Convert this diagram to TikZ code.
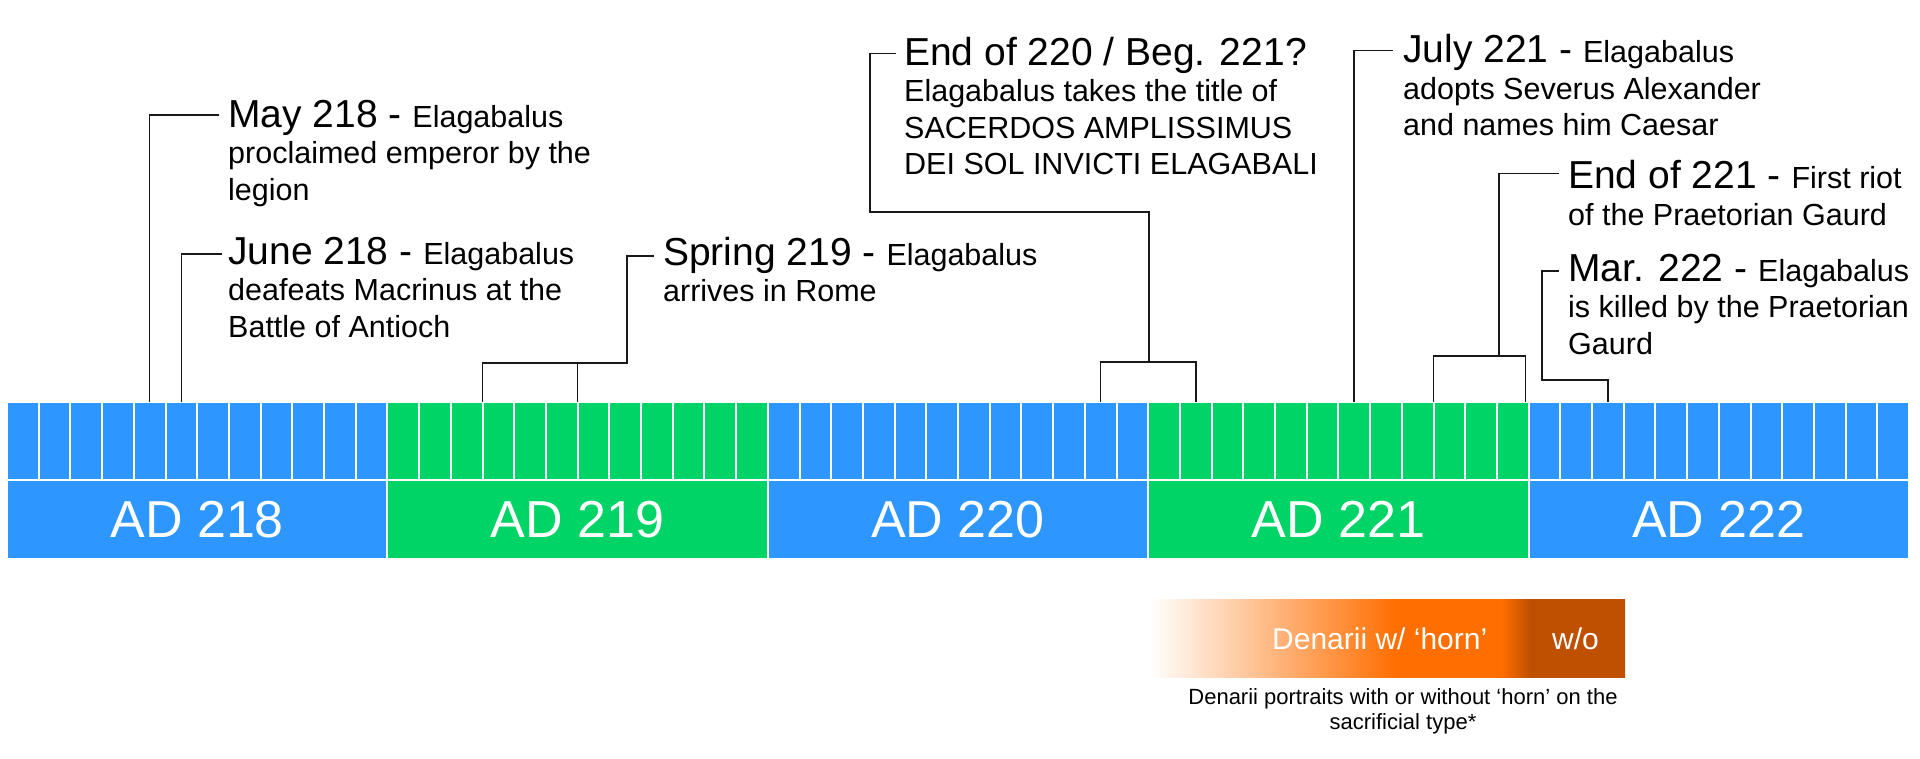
\documentclass[tikz,border=0pt]{standalone}
\usepackage{fontspec}
\setmainfont{Liberation Sans}
\usepackage{tikz}
\usetikzlibrary{positioning}
\definecolor{yearblue}{RGB}{45,150,255}
\definecolor{yeargreen}{RGB}{0,212,102}
\definecolor{hornorange}{RGB}{255,110,0}
\definecolor{hornbrown}{RGB}{190,80,0}
\definecolor{leadgray}{RGB}{25,25,25}
\pgfdeclarehorizontalshading{hornshade}{100bp}{color(0bp)=(white); color(25bp)=(white); color(51bp)=(hornorange); color(62bp)=(hornorange); color(65bp)=(hornbrown); color(100bp)=(hornbrown)}
\newcommand{\evhead}{\fontsize{39}{36.5}\selectfont}
\tikzset{leader/.style={draw=leadgray, line width=1.6pt}}

\begin{document}
\begin{tikzpicture}[x=1pt, y=-1pt, month_cell/.style={rectangle, draw=white, line width=2pt, outer sep=0pt, minimum width=31.7pt, minimum height=78pt, anchor=north west},
year_block/.style={rectangle, draw=white, line width=2pt, outer sep=0pt, minimum width=380.4pt, minimum height=79pt, anchor=north west, text=white, font=\fontsize{52}{60}\selectfont},
event_label/.style={anchor=north west, inner sep=0pt, align=left, font=\fontsize{30.5}{36.5}\selectfont},
horn_text/.style={anchor=base west, inner sep=0pt, text=white, font=\fontsize{30}{36}\selectfont}]
    \useasboundingbox (0,0) rectangle (1920,758);

    % months and years
    \foreach \m in {0,...,59} {
        \pgfmathtruncatemacro\yr{\m/12}
        \ifodd\yr \def\cellcol{yeargreen}\else\def\cellcol{yearblue}\fi
        \node[month_cell, fill=\cellcol] (m\m) at ({7+31.7*\m},402) {};
    }
    \foreach \yr [count=\i from 0] in {218,...,222} {
        \ifodd\i \def\cellcol{yeargreen}\else\def\cellcol{yearblue}\fi
        \node[year_block, fill=\cellcol] (y\yr) at ({7+380.4*\i},480) {AD \yr};
    }

    % events
    \node[event_label] (may218) at (228,99.7) {{\evhead May 218 - }Elagabalus\\proclaimed emperor by the\\legion};
    \node[event_label] (june218) at (228,237) {{\evhead June 218 - }Elagabalus\\deafeats Macrinus at the\\Battle of Antioch};
    \node[event_label] (spring219) at (663,237) {{\evhead Spring 219 - }Elagabalus\\arrives in Rome};
    \node[event_label] (end220) at (904,36.6) {{\evhead End of 220 / Beg. 221?}\\Elagabalus takes the title of\\SACERDOS AMPLISSIMUS\\DEI SOL INVICTI ELAGABALI};
    \node[event_label] (july221) at (1403,34.3) {{\evhead July 221 - }Elagabalus\\adopts Severus Alexander\\and names him Caesar};
    \node[event_label] (end221) at (1568,160.3) {{\evhead End of 221 - }First riot\\of the Praetorian Gaurd};
    \node[event_label] (mar222) at (1568,253.7) {{\evhead Mar. 222 - }Elagabalus\\is killed by the Praetorian\\Gaurd};

    \coordinate (springbar) at (627,363);
    \coordinate (end220bar) at (1149,362);
    \coordinate (end220bend) at (870,212);
    \coordinate (end221bar) at (1499,356);
    \coordinate (mar222bend) at (1542,380);

    \draw[leader] (m4.north) |- ([xshift=-9pt,yshift=-15pt]may218.north west);
    \draw[leader] (m5.north) |- ([xshift=-6pt,yshift=-17pt]june218.north west);
    \draw[leader] (m15.north west) |- (springbar) |- ([xshift=-9pt,yshift=-19pt]spring219.north west);
    \draw[leader] (m18.north west) -- (m18.north west |- springbar);
    \draw[leader] (m34.north) |- (end220bar) -| (m37.north);
    \draw[leader] (end220bar) |- (end220bend) |- ([xshift=-8pt,yshift=-17pt]end220.north west);
    \draw[leader] (m42.north) |- ([xshift=-10pt,yshift=-16pt]july221.north west);
    \draw[leader] (m45.north west) |- (end221bar) -| ([xshift=-3pt]m47.north east);
    \draw[leader] (end221bar) |- ([xshift=-9pt,yshift=-13pt]end221.north west);
    \draw[leader] (m50.north) |- (mar222bend) |- ([xshift=-9pt,yshift=-17pt]mar222.north west);

    % denarii bar
    \node[rectangle, shading=hornshade, outer sep=0pt, minimum width=475pt, minimum height=78pt, anchor=north west] (hornbar) at (1150,599) {};
    \node[horn_text] (withhorn) at (1272,649) {Denarii w/ ‘horn’};
    \node[horn_text] (withouthorn) at (1552,649) {w/o};
    \node[anchor=north, inner sep=0pt, align=center, font=\fontsize{22}{25}\selectfont] (hornnote) at (1403,688.2) {Denarii portraits with or without ‘horn’ on the\\sacrificial type*};
\end{tikzpicture}
\end{document}
